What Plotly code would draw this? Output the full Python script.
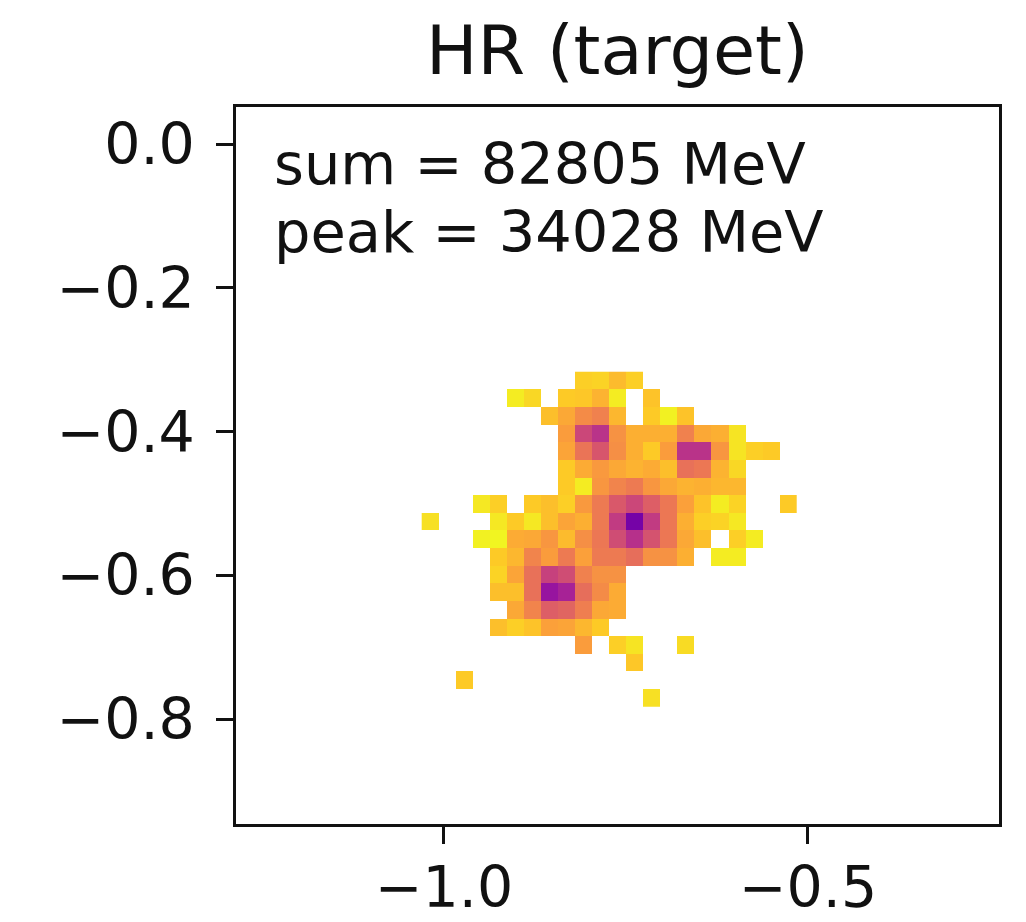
import plotly.graph_objects as go

_ = None
# Colour level of each calorimeter cell (0 = faint yellow, 1 = dark), rows top to bottom
level_rows = [
 [_,_,_,_,_,_,_,_,_,.10,.09,.15,.10,_,_,_,_,_,_,_,_,_],
 [_,_,_,_,_,.03,.08,_,.11,.12,.17,.03,_,.13,_,_,_,_,_,_,_,_],
 [_,_,_,_,_,_,_,.14,.20,.28,.31,.16,_,.11,.02,.13,_,_,_,_,_,_],
 [_,_,_,_,_,_,_,_,.23,.50,.57,.26,.18,.18,.18,.31,.20,.18,.05,_,_,_],
 [_,_,_,_,_,_,_,_,.21,.35,.45,.27,.18,.11,.23,.57,.57,.25,.05,.10,.11,_],
 [_,_,_,_,_,_,_,_,.11,.19,.24,.20,.17,.19,.14,.36,.34,.17,.08,_,_,_],
 [_,_,_,_,_,_,_,_,.11,.03,.25,.30,.33,.25,.20,.17,.18,.16,.16,_,_,_],
 [_,_,_,.04,.10,_,.11,.14,.10,.24,.33,.44,.50,.42,.34,.22,.13,.03,.09,_,_,.11],
 [.06,_,_,_,.04,.11,.04,.14,.21,.18,.33,.54,.77,.54,.34,.18,.10,.09,.04,_,_,_],
 [_,_,_,.02,.01,.19,.20,.25,.15,.27,.34,.48,.58,.46,.34,.20,.14,_,.10,.03,_,_],
 [_,_,_,_,.11,.16,.30,.23,.33,.22,.33,.33,.37,.26,.26,.18,_,.03,.03,_,_,_],
 [_,_,_,_,.09,.21,.36,.52,.48,.31,.26,.26,_,_,_,_,_,_,_,_,_,_],
 [_,_,_,_,.14,.14,.36,.68,.63,.37,.28,.19,_,_,_,_,_,_,_,_,_,_],
 [_,_,_,_,_,.20,.30,.42,.40,.32,.20,.19,_,_,_,_,_,_,_,_,_,_],
 [_,_,_,_,.14,.10,.13,.22,.21,.16,.11,_,_,_,_,_,_,_,_,_,_,_],
 [_,_,_,_,_,_,_,_,_,.23,_,.10,.05,_,_,.07,_,_,_,_,_,_],
 [_,_,_,_,_,_,_,_,_,_,_,_,.12,_,_,_,_,_,_,_,_,_],
 [_,_,.11,_,_,_,_,_,_,_,_,_,_,_,_,_,_,_,_,_,_,_],
 [_,_,_,_,_,_,_,_,_,_,_,_,_,.06,_,_,_,_,_,_,_,_],
]
x_first_center = -1.0189
x_step = 0.02343
y_first_center = -0.3290
y_step = -0.02452
x_ticks = [-1.0, -0.5]
y_ticks = [0.0, -0.2, -0.4, -0.6, -0.8]
title = "HR (target)"
notes = ["sum = 82805 MeV", "peak = 34028 MeV"]

W, H = 1026, 922
OFF = 8  # body margin of the page
L, R, T, B = 236 - OFF, 999 - OFF, 107 - OFF, 824 - OFF
FONT = "DejaVu Sans"

fig = go.Figure(go.Heatmap(
    z=level_rows, x0=x_first_center, dx=x_step, y0=y_first_center, dy=y_step,
    colorscale="Plasma_r", zmin=0, zmax=1, showscale=False, hoverongaps=False,
))
axis = dict(showgrid=False, zeroline=False, showline=True, mirror=True, linecolor="#111",
            linewidth=2.5, ticks="outside", ticklen=17, tickwidth=2.5, tickcolor="#111",
            tickfont=dict(family=FONT, size=57, color="#111"), tickformat=".1f",
            automargin=False)
fig.update_layout(
    width=W, height=H, autosize=False, margin=dict(l=0, r=0, t=0, b=0),
    paper_bgcolor="white", plot_bgcolor="white",
    xaxis=dict(axis, domain=[L / W, R / W], range=[-1.2857, -0.2376], tickvals=x_ticks,
               ticklabelstandoff=-5),
    yaxis=dict(axis, domain=[1 - B / H, 1 - T / H], range=[-0.9458, 0.0515], tickvals=y_ticks,
               ticklabelstandoff=10),
)
fig.add_annotation(text=title, xref="paper", yref="paper", x=(617 - OFF) / W, y=1 - (50 - OFF) / H,
                   showarrow=False, xanchor="center", yanchor="middle",
                   font=dict(family=FONT, size=68.5, color="#111"))
for note, py in zip(notes, [164, 232]):
    fig.add_annotation(text=note, xref="paper", yref="paper", x=(275 - OFF) / W, y=1 - (py - OFF) / H,
                       showarrow=False, xanchor="left", yanchor="middle", xshift=-3,
                       font=dict(family=FONT, size=57.4, color="#111"))
fig.write_html("out.html")
